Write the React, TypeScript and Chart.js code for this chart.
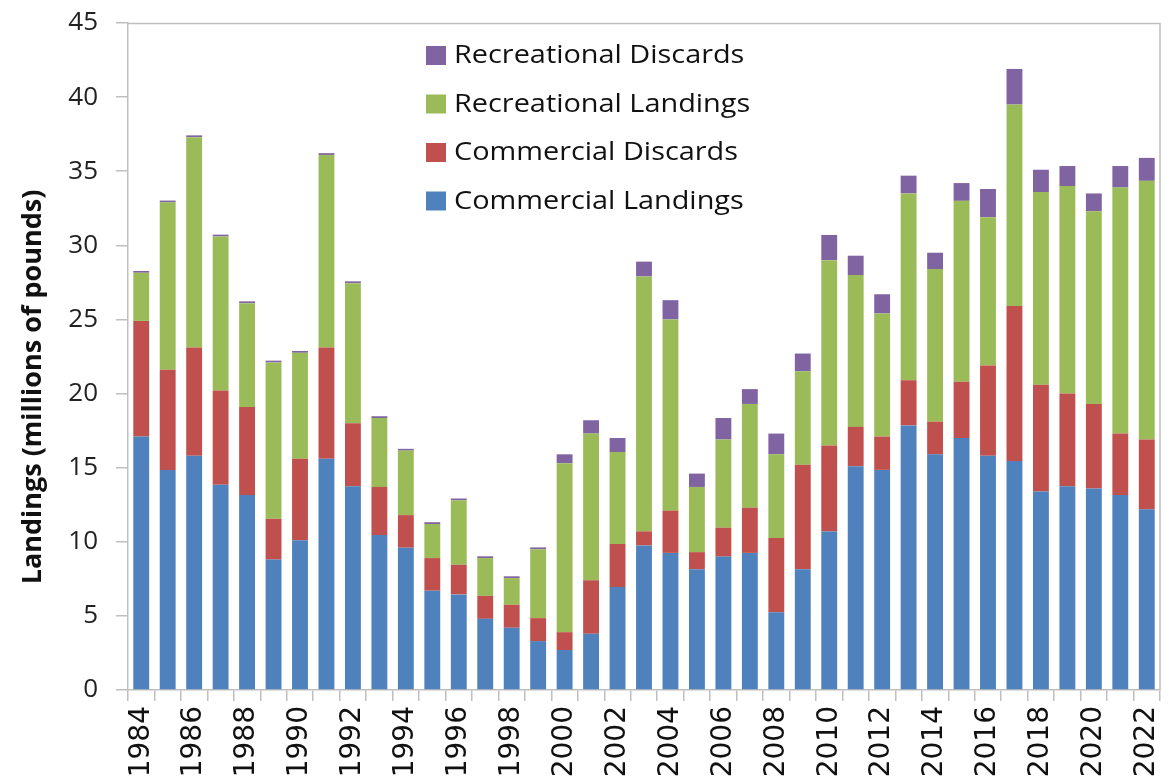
import React, { useEffect, useRef } from "react";
import { Chart, registerables } from "chart.js";

Chart.register(...registerables);

const years = [
  "1984","1985","1986","1987","1988","1989","1990","1991","1992","1993",
  "1994","1995","1996","1997","1998","1999","2000","2001","2002","2003",
  "2004","2005","2006","2007","2008","2009","2010","2011","2012","2013",
  "2014","2015","2016","2017","2018","2019","2020","2021","2022",
];

const commercialLandings = [
  17.1, 14.85, 15.8, 13.85, 13.15, 8.8, 10.1, 15.6, 13.75, 10.45,
  9.6, 6.7, 6.45, 4.8, 4.2, 3.3, 2.7, 3.8, 6.95, 9.75,
  9.25, 8.15, 9.0, 9.25, 5.25, 8.15, 10.7, 15.1, 14.85, 17.85,
  15.9, 17.0, 15.8, 15.45, 13.4, 13.75, 13.6, 13.15, 12.2,
];

const commercialDiscards = [
  7.8, 6.75, 7.3, 6.35, 5.95, 2.75, 5.5, 7.5, 4.25, 3.25,
  2.2, 2.2, 2.0, 1.55, 1.55, 1.55, 1.2, 3.6, 2.9, 0.95,
  2.85, 1.15, 1.95, 3.05, 5.0, 7.05, 5.8, 2.65, 2.25, 3.05,
  2.2, 3.8, 6.1, 10.45, 7.2, 6.25, 5.7, 4.15, 4.7,
];

const recreationalLandings = [
  3.25, 11.3, 14.2, 10.4, 7.0, 10.55, 7.15, 13.0, 9.45, 4.65,
  4.35, 2.3, 4.35, 2.55, 1.8, 4.65, 11.4, 9.9, 6.2, 17.2,
  12.9, 4.4, 5.95, 7.0, 5.65, 6.3, 12.5, 10.25, 8.3, 12.6,
  10.3, 12.2, 10.0, 13.6, 13.0, 14.0, 13.0, 16.6, 17.45,
];

const recreationalDiscards = [
  0.12, 0.12, 0.12, 0.12, 0.12, 0.12, 0.12, 0.12, 0.12, 0.12,
  0.12, 0.12, 0.12, 0.12, 0.12, 0.12, 0.6, 0.9, 0.95, 1.0,
  1.3, 0.9, 1.45, 1.0, 1.4, 1.2, 1.7, 1.3, 1.3, 1.2,
  1.1, 1.2, 1.9, 2.4, 1.5, 1.35, 1.2, 1.45, 1.55,
];

const yTitle = "Landings (millions of pounds)";

const COLORS = {
  cl: "#4F81BD",
  cd: "#C0504D",
  rl: "#9BBB59",
  rd: "#8064A2",
};

const framePlugin = {
  id: "frameAndLegend",
  afterDraw(chart: any) {
    const { ctx, chartArea } = chart;
    ctx.save();
    // frame (top + right)
    ctx.strokeStyle = "#BFBFBF";
    ctx.lineWidth = 1.5;
    ctx.beginPath();
    ctx.moveTo(chartArea.left, chartArea.top + 0.5);
    ctx.lineTo(chartArea.right, chartArea.top + 0.5);
    ctx.lineTo(chartArea.right, chartArea.bottom);
    ctx.stroke();

    // y title
    ctx.save();
    ctx.translate(33, 387);
    ctx.rotate(-Math.PI / 2);
    ctx.fillStyle = "#111";
    ctx.font = "bold 27px 'Open Sans'";
    ctx.textAlign = "center";
    ctx.textBaseline = "middle";
    ctx.fillText(yTitle, 0, 0);
    ctx.restore();

    // legend
    const items = chart.data.datasets.slice().reverse();
    const x0 = 426;
    const y0 = 55;
    const gap = 48.5;
    items.forEach((ds: any, i: number) => {
      const cy = y0 + i * gap;
      ctx.fillStyle = ds.backgroundColor;
      ctx.fillRect(x0, cy - 9, 20, 19);
      ctx.save();
      ctx.translate(x0 + 28, cy + 1);
      ctx.scale(1.11, 1);
      ctx.font = "26px 'Open Sans'";
      ctx.textAlign = "left";
      ctx.textBaseline = "middle";
      ctx.fillStyle = "#111";
      ctx.fillText(ds.label, 0, 0);
      ctx.restore();
    });
    ctx.restore();
  },
};

const zeroPad = (scale: any) => {
  scale.paddingLeft = 0;
  scale.paddingRight = 0;
  scale.paddingTop = 0;
  scale.paddingBottom = 0;
};

export default function App() {
  const ref = useRef<HTMLCanvasElement | null>(null);

  useEffect(() => {
    if (!ref.current) return;
    const chart = new Chart(ref.current, {
      type: "bar",
      data: {
        labels: years,
        datasets: [
          { label: "Commercial Landings", data: commercialLandings, backgroundColor: COLORS.cl },
          { label: "Commercial Discards", data: commercialDiscards, backgroundColor: COLORS.cd },
          { label: "Recreational Landings", data: recreationalLandings, backgroundColor: COLORS.rl },
          { label: "Recreational Discards", data: recreationalDiscards, backgroundColor: COLORS.rd },
        ],
      },
      options: {
        responsive: false,
        animation: false,
        layout: { padding: { top: 23, right: 10, left: 0, bottom: 0 } },
        datasets: {
          bar: { categoryPercentage: 1, barPercentage: 0.6, borderWidth: 0 },
        },
        plugins: {
          legend: { display: false },
          tooltip: { enabled: false },
        },
        scales: {
          x: {
            stacked: true,
            grid: {
              drawOnChartArea: false,
              tickLength: 11,
              color: "#BFBFBF",
              lineWidth: 1.5,
              offset: true,
            },
            border: { color: "#BFBFBF", width: 1.5 },
            ticks: {
              autoSkip: false,
              minRotation: 90,
              maxRotation: 90,
              padding: 5,
              color: "#111",
              font: { family: "'DejaVu Sans'", size: 28 },
              callback: (_v: any, i: number) => (i % 2 === 0 ? years[i] : ""),
            },
            afterFit: (scale: any) => {
              scale.height = 90;
              zeroPad(scale);
            },
          },
          y: {
            stacked: true,
            min: 0,
            max: 45,
            grid: {
              drawOnChartArea: false,
              tickLength: 12,
              color: "#BFBFBF",
              lineWidth: 1.5,
            },
            border: { color: "#BFBFBF", width: 1.5 },
            ticks: {
              stepSize: 5,
              padding: 18,
              color: "#222",
              font: { family: "'Open Sans'", size: 26 },
            },
            afterFit: (scale: any) => {
              scale.width = 128;
              zeroPad(scale);
            },
          },
        },
      },
      plugins: [framePlugin],
    });
    return () => chart.destroy();
  }, []);

  return (
    <div style={{ position: "fixed", left: 0, top: 0, width: 1170, height: 780, background: "#fff" }}>
      <canvas ref={ref} width={1170} height={780} />
    </div>
  );
}
